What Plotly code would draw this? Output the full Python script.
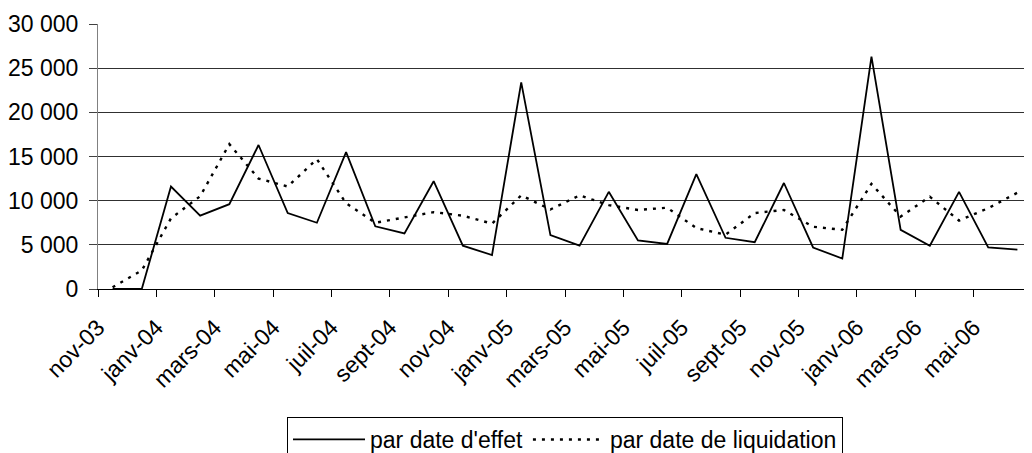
import plotly.graph_objects as go

months = ["nov-03", "déc-03", "janv-04", "févr-04", "mars-04", "avr-04", "mai-04", "juin-04",
          "juil-04", "août-04", "sept-04", "oct-04", "nov-04", "déc-04", "janv-05", "févr-05",
          "mars-05", "avr-05", "mai-05", "juin-05", "juil-05", "août-05", "sept-05", "oct-05",
          "nov-05", "déc-05", "janv-06", "févr-06", "mars-06", "avr-06", "mai-06", "juin-06"]

par_date_effet = [0, 0, 11600, 8300, 9600, 16300, 8600, 7500, 15500, 7100, 6300, 12200,
                  4900, 3850, 23400, 6100, 4900, 11000, 5500, 5100, 13000, 5800, 5300, 12000,
                  4700, 3450, 26300, 6700, 4900, 11000, 4700, 4450]

par_date_liquidation = [200, 2100, 8000, 10500, 16400, 12500, 11600, 14700, 9700, 7500, 8100, 8700,
                        8300, 7400, 10600, 9000, 10600, 9500, 8950, 9200, 6900, 6150, 8600, 8950,
                        7050, 6700, 11900, 8200, 10450, 7750, 9150, 10900]

y_ticks = [0, 5000, 10000, 15000, 20000, 25000, 30000]
y_ticktext = ["0", "5 000", "10 000", "15 000", "20 000", "25 000", "30 000"]

x = list(range(len(months)))
x_tickvals = [i - 0.5 for i in range(0, len(months), 2)]
x_ticktext = [months[i] for i in range(0, len(months), 2)]

FONT = "Liberation Sans, Arial, sans-serif"

fig = go.Figure()
fig.add_trace(go.Scatter(x=x, y=par_date_effet, mode="lines", name="par date d'effet",
                         line=dict(color="black", width=1.8)))
fig.add_trace(go.Scatter(x=x, y=par_date_liquidation, mode="lines", name="par date de liquidation",
                         line=dict(color="black", width=2.4, dash="3px,6px")))

# page body has an 8px margin, so the figure is 1024x445 placed at (8, 8)
fig.update_layout(
    width=1024, height=445,
    margin=dict(l=90, r=0, t=16, b=164, autoexpand=False),
    paper_bgcolor="white", plot_bgcolor="white",
    font=dict(family=FONT, size=23, color="black"),
    showlegend=True,
    legend=dict(orientation="h", x=0.5, xanchor="center", y=-0.483, yanchor="top",
                bordercolor="black", borderwidth=1, font=dict(size=23), traceorder="normal",
                itemwidth=72),
)
fig.update_xaxes(range=[-0.5, len(months) - 0.5], tickmode="array", tickvals=x_tickvals,
                 ticktext=x_ticktext, tickangle=-45, ticks="outside", ticklen=7, tickcolor="black",
                 ticklabelstandoff=8, automargin=False,
                 showgrid=False, showline=True, linecolor="black", linewidth=1, zeroline=False)
fig.update_yaxes(range=[0, 30000], tickmode="array", tickvals=y_ticks, ticktext=y_ticktext,
                 ticks="outside", ticklen=8, tickcolor="#404040", showgrid=True, gridcolor="#303030",
                 ticklabelstandoff=6, automargin=False,
                 gridwidth=1, showline=True, linecolor="#808080", linewidth=1, zeroline=False)

fig.write_html("out.html")
